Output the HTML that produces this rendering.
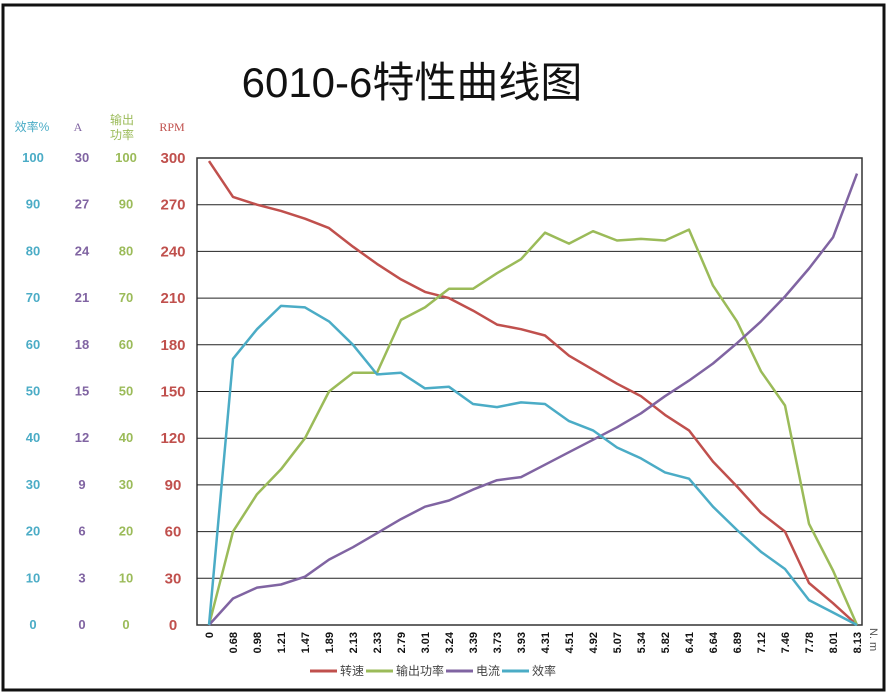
<!DOCTYPE html><html><head><meta charset="utf-8"><style>body{margin:0;background:#fff;width:887px;height:694px;overflow:hidden}</style></head><body>
<svg width="887" height="694" xmlns="http://www.w3.org/2000/svg" font-family="Liberation Sans, Noto Sans CJK SC, sans-serif">
<rect x="3" y="5" width="881" height="685" fill="#fff" stroke="#111" stroke-width="3"/>
<text x="412" y="97" font-size="42" text-anchor="middle" fill="#111">6010-6特性曲线图</text>
<g font-size="12">
<text x="32" y="131" fill="#4bacc6" text-anchor="middle">效率%</text>
<text x="78" y="131" fill="#8064a2" text-anchor="middle" font-family="Liberation Serif,serif">A</text>
<text x="122" y="124" fill="#9bbb59" text-anchor="middle">输出</text>
<text x="122" y="139" fill="#9bbb59" text-anchor="middle">功率</text>
<text x="172" y="131" fill="#c0504d" text-anchor="middle" font-family="Liberation Serif,serif">RPM</text>
</g>
<g id="ax" font-size="13" font-weight="bold"></g>
<rect x="197" y="158" width="665" height="467" fill="none" stroke="#333" stroke-width="1.5"/>
<g id="grid" stroke="#222" stroke-width="1"></g>
<g id="lines" fill="none" stroke-width="2.5" stroke-linejoin="round"></g>
<g id="xl" font-size="11" font-weight="bold" fill="#111"></g>
<text transform="translate(870,628) rotate(90)" font-size="11" fill="#555">N. m</text>
<g font-size="12" fill="#444">
<line x1="310" y1="671" x2="337" y2="671" stroke="#c0504d" stroke-width="3"/><text x="340" y="675">转速</text>
<line x1="366" y1="671" x2="393" y2="671" stroke="#9bbb59" stroke-width="3"/><text x="396" y="675">输出功率</text>
<line x1="446" y1="671" x2="473" y2="671" stroke="#8064a2" stroke-width="3"/><text x="476" y="675">电流</text>
<line x1="502" y1="671" x2="529" y2="671" stroke="#4bacc6" stroke-width="3"/><text x="532" y="675">效率</text>
</g>
</svg>
<script>
const ns="http://www.w3.org/2000/svg";
function el(p,t,a,tx){const e=document.createElementNS(ns,t);for(const k in a)e.setAttribute(k,a[k]);if(tx!==undefined)e.textContent=tx;document.getElementById(p).appendChild(e);}
for(let i=0;i<=10;i++){const y=625-i*46.7;
 if(i>0&&i<10)el("grid","line",{x1:197,x2:862,y1:y,y2:y});
 el("ax","text",{x:33,y:y+4,fill:"#4bacc6","text-anchor":"middle"},i*10);
 el("ax","text",{x:82,y:y+4,fill:"#8064a2","text-anchor":"middle"},i*3);
 el("ax","text",{x:126,y:y+4,fill:"#9bbb59","text-anchor":"middle"},i*10);
 el("ax","text",{x:173,y:y+5,fill:"#c0504d","text-anchor":"middle","font-size":15},i*30);
}
const xs=["0","0.68","0.98","1.21","1.47","1.89","2.13","2.33","2.79","3.01","3.24","3.39","3.73","3.93","4.31","4.51","4.92","5.07","5.34","5.82","6.41","6.64","6.89","7.12","7.46","7.78","8.01","8.13"];
const X=i=>209+i*24;
xs.forEach((s,i)=>el("xl","text",{transform:`translate(${X(i)+4},${632}) rotate(-90)`,"text-anchor":"end"},s));
const D={
"#c0504d":[298,275,270,266,261,255,243,232,222,214,210,202,193,190,186,173,164,155,147,135,125,105,89,72,60,27,14,0],
"#9bbb59":[0,60,84,100,120,150,162,162,196,204,216,216,226,235,252,245,253,247,248,247,254,218,195,163,141,65,35,0],
"#8064a2":[0,17,24,26,31,42,50,59,68,76,80,87,93,95,103,111,119,127,136,147,157,168,181,195,211,229,249,290],
"#4bacc6":[0,171,190,205,204,195,180,161,162,152,153,142,140,143,142,131,125,114,107,98,94,76,61,47,36,16,8,0]};
for(const c in D)el("lines","polyline",{stroke:c,points:D[c].map((v,i)=>X(i)+","+(625-v*467/300).toFixed(1)).join(" ")});
</script>
</body></html>
